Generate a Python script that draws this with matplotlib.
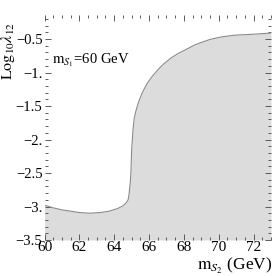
import matplotlib
matplotlib.use("Agg")
import matplotlib.pyplot as plt
import numpy as np
from matplotlib.ticker import MultipleLocator

plt.rcParams['font.family'] = ['Liberation Serif', 'DejaVu Serif']
plt.rcParams['mathtext.fontset'] = 'stix'

# boundary curve (m_S2 in GeV, log10 lambda12)
m_s2 = [60.0, 60.5, 61.0, 61.5, 62.0, 62.6, 63.2, 63.7, 64.2, 64.5, 64.67, 64.8, 64.86,
        64.92, 64.96, 65.0, 65.08, 65.15, 65.25, 65.35, 65.44, 65.6, 65.75, 65.92, 66.2,
        66.5, 66.8, 67.27, 67.7, 68.23, 68.6, 69.0, 69.5, 70.1, 70.5, 71.0, 71.8, 72.4, 73.0]
log_lam = [-2.98, -3.02, -3.05, -3.07, -3.09, -3.10, -3.09, -3.07, -3.03, -2.99, -2.95,
           -2.90, -2.80, -2.65, -2.50, -2.16, -1.85, -1.68, -1.57, -1.48, -1.41, -1.31,
           -1.23, -1.15, -1.05, -0.96, -0.88, -0.78, -0.71, -0.64, -0.59, -0.55, -0.505,
           -0.47, -0.455, -0.44, -0.43, -0.42, -0.41]

xticks = [60, 62, 64, 66, 68, 70, 72]
xticklabels = ["60", "62", "64", "66", "68", "70", "72"]
yticks = [-3.5, -3.0, -2.5, -2.0, -1.5, -1.0, -0.5]
yticklabels = ["\u22123.5", "\u22123.", "\u22122.5", "\u22122.", "\u22121.5", "\u22121.", "\u22120.5"]

fig = plt.figure(figsize=(2.74, 2.76), dpi=100)
ax = fig.add_axes([44.5/274, 36/276, 226.5/274, 225/276])

ax.fill_between(m_s2, -3.5, log_lam, color='#dcdcdc', lw=0)
ax.plot(m_s2, log_lam, color='#8a8a8a', lw=0.8)

ax.set_xlim(60, 73)
ax.set_ylim(-3.5, -0.14)
for s in ax.spines.values():
    s.set_visible(False)

ax.set_xticks(xticks)
ax.set_xticklabels(xticklabels)
ax.set_yticks(yticks)
ax.set_yticklabels(yticklabels)
ax.xaxis.set_minor_locator(MultipleLocator(0.5))
ax.yaxis.set_minor_locator(MultipleLocator(0.1))
ax.tick_params(which='both', direction='in', top=True, right=True, color='#444444', width=0.6,
               labelsize=11)
ax.tick_params(which='major', length=4)
ax.tick_params(which='minor', length=2)
ax.tick_params(axis='x', pad=1)
ax.tick_params(axis='y', pad=1.5, labelsize=10.5)

fig.text(0.031, 0.815, r"$\mathrm{Log}_{10}\lambda_{12}$", rotation=90, fontsize=11.5,
         ha='center', va='center')
fig.text(0.995, 0.038, r"$\mathrm{m}_{S_2}$ (GeV)", fontsize=12.5, ha='right', va='center')
ax.text(0.035, 0.80, r"$\mathrm{m}_{S_1}$=60 GeV", transform=ax.transAxes, fontsize=10.5,
        ha='left', va='center')

fig.savefig("out.png", dpi=100)
